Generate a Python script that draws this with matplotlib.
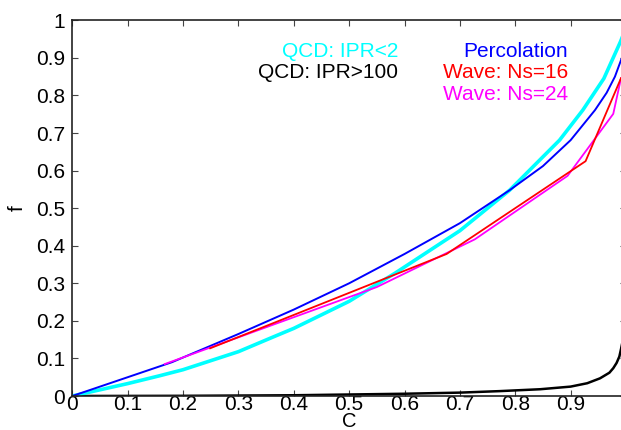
import matplotlib
matplotlib.use("Agg")
import matplotlib.pyplot as plt
from matplotlib.ticker import FormatStrFormatter

plt.rcParams['font.family'] = ['Liberation Sans', 'DejaVu Sans']

# Percolation (blue)
perc_c = [0.0, 0.1, 0.18, 0.3, 0.4, 0.5, 0.6, 0.7, 0.79, 0.85, 0.9, 0.944, 0.965, 0.98, 0.99, 1.0]
perc_f = [0.0, 0.05, 0.09, 0.165, 0.23, 0.30, 0.378, 0.46, 0.548, 0.612, 0.681, 0.761, 0.807, 0.85, 0.89, 0.93]

# QCD: IPR<2 (cyan)
qlo_c = [0.0, 0.1, 0.158, 0.2, 0.3, 0.361, 0.4, 0.5, 0.583, 0.7, 0.79, 0.88, 0.922, 0.96, 0.99, 1.0]
qlo_f = [0.0, 0.033, 0.054, 0.07, 0.118, 0.156, 0.18, 0.252, 0.327, 0.44, 0.548, 0.681, 0.761, 0.845, 0.943, 0.98]

# QCD: IPR>100 (black)
qhi_c = [0.0, 0.2, 0.4, 0.5, 0.6, 0.7, 0.772, 0.845, 0.9, 0.93, 0.953, 0.97, 0.977, 0.983, 0.988, 0.991, 1.0]
qhi_f = [0.0, 0.0005, 0.002, 0.004, 0.006, 0.009, 0.013, 0.018, 0.025, 0.034, 0.047, 0.062, 0.074, 0.088, 0.105, 0.125, 0.19]

# Wave: Ns=16 (red)
w16_c = [0.249, 0.676, 0.927, 0.991]
w16_f = [0.127, 0.378, 0.625, 0.846]

# Wave: Ns=24 (magenta)
w24_c = [0.167, 0.55, 0.727, 0.8945, 0.977, 0.991]
w24_f = [0.085, 0.29, 0.417, 0.586, 0.751, 0.846]

xticks = [0, 0.1, 0.2, 0.3, 0.4, 0.5, 0.6, 0.7, 0.8, 0.9, 1.0]
xticklabels = ['0', '0.1', '0.2', '0.3', '0.4', '0.5', '0.6', '0.7', '0.8', '0.9', '']
yticks = [0, 0.1, 0.2, 0.3, 0.4, 0.5, 0.6, 0.7, 0.8, 0.9, 1.0]

fig = plt.figure(figsize=(6.21, 4.30), dpi=100)
ax = fig.add_axes([72.3/621, (430-396)/430, (626-72.3)/621, (396-20.3)/430])

ax.plot(qhi_c, qhi_f, color='black', lw=1.8)
ax.plot(qlo_c, qlo_f, color='#00FFFF', lw=2.6)
ax.plot(perc_c, perc_f, color='#0000FF', lw=1.4)
ax.plot(w24_c, w24_f, color='#FF00FF', lw=1.3)
ax.plot(w16_c, w16_f, color='#FF0000', lw=1.3)

ax.set_xlim(0, 1)
ax.set_ylim(0, 1)
ax.set_xticks(xticks)
ax.set_xticklabels(xticklabels)
ax.set_yticks(yticks)
ax.yaxis.set_major_formatter(FormatStrFormatter('%g'))
ax.tick_params(direction='in', length=4, width=0.8, labelsize=15,
               top=True, right=True, color='#444444')
ax.tick_params(axis='x', pad=-1)
ax.tick_params(axis='y', pad=5)
for s in ['left', 'bottom', 'top', 'right']:
    ax.spines[s].set_linewidth(1.2)
    ax.spines[s].set_color('#222222')

ax.set_xlabel('C', fontsize=14.5, labelpad=-1.4)
ax.set_ylabel('f', fontsize=15, labelpad=7)

kw = dict(fontsize=15, ha='right', va='center', transform=ax.transData)
ax.text(0.588, 0.918, 'QCD: IPR<2', color='#00FFFF', **kw)
ax.text(0.588, 0.861, 'QCD: IPR>100', color='black', **kw)
ax.text(0.895, 0.918, 'Percolation', color='#0000FF', **kw)
ax.text(0.895, 0.861, 'Wave: Ns=16', color='#FF0000', **kw)
ax.text(0.895, 0.802, 'Wave: Ns=24', color='#FF00FF', **kw)

fig.savefig('out.png', dpi=100)
